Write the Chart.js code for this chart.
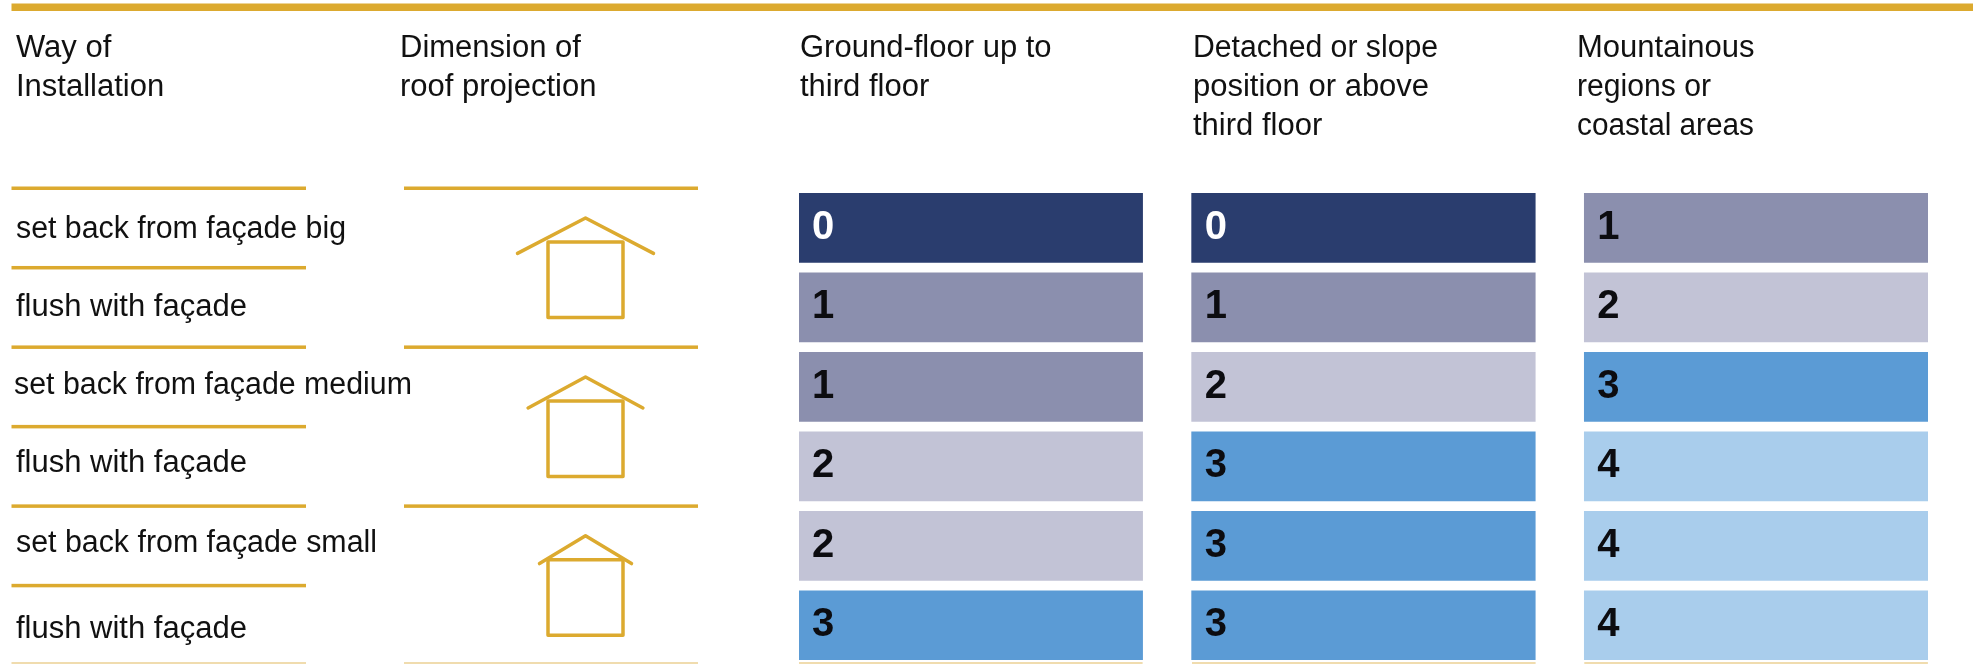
<!DOCTYPE html>
<html>
<head>
<meta charset="utf-8">
<title>Way of installation</title>
<script src="https://cdn.jsdelivr.net/npm/chart.js@4"></script>
<style>
html, body { margin: 0; padding: 0; background: #fff; overflow: hidden; }
canvas { display: block; }
</style>
</head>
<body>
<canvas id="myChart" width="1973" height="665"></canvas>
<script>
var rows = ['set back from façade big', 'flush with façade', 'set back from façade medium',
            'flush with façade', 'set back from façade small', 'flush with façade'];
var groundFloor = [0, 1, 1, 2, 2, 3];
var detached = [0, 1, 2, 3, 3, 3];
var mountainous = [1, 2, 3, 4, 4, 4];
var columnNames = ['Ground-floor up to third floor', 'Detached or slope position or above third floor', 'Mountainous regions or coastal areas'];

var headers = [
    { x: 16, lines: ['Way of', 'Installation'] },
    { x: 400, lines: ['Dimension of', 'roof projection'] },
    { x: 800, lines: ['Ground-floor up to', 'third floor'] },
    { x: 1193, lines: ['Detached or slope', 'position or above', 'third floor'], fit: [245, 239, 148] },
    { x: 1577, lines: ['Mountainous', 'regions or', 'coastal areas'], fit: [178, 134, 177] }
];
var ratingColors = ['#2a3d6e', '#8b8fae', '#c2c3d6', '#5b9bd5', '#a9cdec'];
var roofHalfSpan = [68, 57.4, 46];
var eaveDrop = [11.4, 7, 3.7];
var labelFit = [330, 232, 398, 232, 361, 232];
var labelDrop = [49.6, 48, 46.6, 45.4, 46, 52];

var gold = '#dcaa2f';
var textFont = '31px "Liberation Sans"';

// each column is one floating bar per row, x unit = one column pitch
var colWidth = 343.6 / 392.65;
function colData(vals, col) {
    return vals.map(function (v) { return [col, col + colWidth]; });
}
var series = [groundFloor, detached, mountainous];

var decorations = {
    id: 'decorations',
    afterDatasetsDraw: function (chart) {
        var ctx = chart.ctx;
        var y = chart.scales.y;
        var pitch = y.getPixelForValue(1) - y.getPixelForValue(0);
        ctx.save();

        // top band
        ctx.fillStyle = gold;
        ctx.fillRect(11.5, 3.5, 1973 - 11.5, 7.5);

        // column headers
        ctx.fillStyle = '#111';
        ctx.font = textFont;
        ctx.textBaseline = 'alphabetic';
        headers.forEach(function (h) {
            h.lines.forEach(function (line, i) {
                ctx.fillText(line, h.x, 57.3 + i * 38.7, h.fit ? h.fit[i] : undefined);
            });
        });

        // row labels and rules
        rows.forEach(function (name, i) {
            var top = y.getPixelForValue(i) - pitch / 2;
            ctx.fillStyle = gold;
            ctx.fillRect(11.5, top - 1.7, 294.5, 3.5);
            if (i % 2 == 0) ctx.fillRect(404, top - 1.7, 294, 3.5);
            ctx.fillStyle = '#111';
            ctx.font = textFont;
            ctx.fillText(name, i == 2 ? 14 : 16, top + labelDrop[i], labelFit[i]);
        });

        // last rule is cut by the picture edge
        ctx.fillStyle = '#f0dcae';
        [[11.5, 294.5], [404, 294], [799, 343.6], [1192, 343.6], [1584.3, 343.6]].forEach(function (r) {
            ctx.fillRect(r[0], 662, r[1], 2);
        });

        // houses, one per pair of rows
        ctx.strokeStyle = gold;
        ctx.lineWidth = 3.5;
        ctx.lineCap = 'round';
        ctx.lineJoin = 'round';
        roofHalfSpan.forEach(function (half, i) {
            var top = y.getPixelForValue(i * 2) - pitch / 2 + 53.8;
            ctx.strokeRect(548, top, 75, 75.5);
            ctx.beginPath();
            ctx.moveTo(585.5 - half, top + eaveDrop[i]);
            ctx.lineTo(585.5, top - 24);
            ctx.lineTo(585.5 + half, top + eaveDrop[i]);
            ctx.stroke();
        });

        // rating numbers
        ctx.font = 'bold 40px "Liberation Sans"';
        chart.data.datasets.forEach(function (ds, d) {
            chart.getDatasetMeta(d).data.forEach(function (bar, i) {
                var val = series[d][i];
                ctx.fillStyle = val == 0 ? '#fff' : '#0c0c10';
                ctx.fillText(val, bar.base + 13, bar.y + 11);
            });
        });
        ctx.restore();
    }
};

var chart = new Chart(document.querySelector('#myChart').getContext('2d'), {
    type: 'bar',
    data: {
        labels: rows,
        datasets: series.map(function (vals, col) {
            return {
                label: columnNames[col],
                data: colData(vals, col),
                backgroundColor: vals.map(function (v) { return ratingColors[v]; }),
                barThickness: 69,
                grouped: false,
                borderSkipped: false
            };
        })
    },
    options: {
        indexAxis: 'y',
        responsive: false,
        animation: false,
        layout: { padding: { left: 799, right: 45, top: 188.2, bottom: 0 } },
        plugins: { legend: { display: false }, tooltip: { enabled: false } },
        scales: {
            x: { type: 'linear', display: false, min: 0, max: 1129 / 392.65 },
            y: { display: false }
        }
    },
    plugins: [decorations]
});
</script>
</body>
</html>
